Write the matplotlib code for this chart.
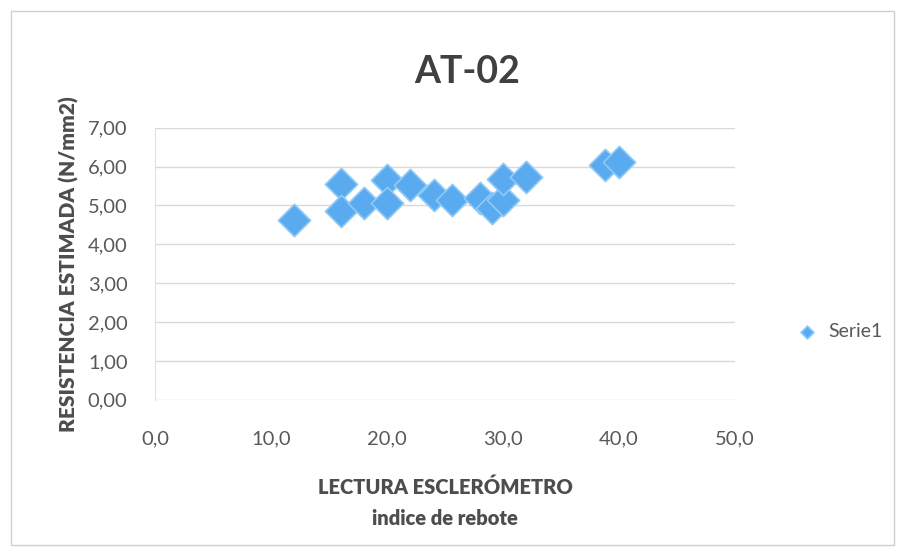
import numpy as np
import matplotlib.pyplot as plt
from matplotlib.patches import Rectangle
from matplotlib.ticker import FuncFormatter

# lectura esclerometro (indice de rebote) vs resistencia estimada
rebote = [12.0, 16.0, 16.0, 18.0, 20.0, 20.0, 22.0, 24.0, 25.6, 28.0, 29.0, 30.0, 30.0, 32.0, 38.8, 40.0]
resistencia = [4.62, 5.55, 4.85, 5.07, 5.65, 5.06, 5.52, 5.28, 5.15, 5.18, 4.93, 5.13, 5.68, 5.73, 6.05, 6.12]

x_ticks = [0, 10, 20, 30, 40, 50]
y_ticks = [0, 1, 2, 3, 4, 5, 6, 7]

fuente = ['Lato', 'DejaVu Sans']
gris = '#595959'

fig = plt.figure(figsize=(9.03, 5.53), dpi=100)
ax = fig.add_axes([0.172, 0.277, 0.642, 0.492])

ax.scatter(rebote, resistencia, marker='D', s=270, color='#5aaaf0',
           edgecolors='#8fcaf6', linewidths=1.2, zorder=3, label='Serie1')

ax.set_xlim(0, 50)
ax.set_ylim(0, 7)
ax.set_xticks(x_ticks)
ax.set_yticks(y_ticks)
ax.xaxis.set_major_formatter(FuncFormatter(lambda v, p: ('%.1f' % v).replace('.', ',')))
ax.yaxis.set_major_formatter(FuncFormatter(lambda v, p: ('%.2f' % v).replace('.', ',')))
ax.grid(axis='y', color='#d9d9d9', linewidth=1)
ax.set_axisbelow(True)
for s in ['top', 'right', 'bottom']:
    ax.spines[s].set_visible(False)
ax.spines['left'].set_color('#e0e0e0')
ax.tick_params(length=0, labelsize=14.5, labelcolor=gris)
ax.tick_params(axis='x', pad=22)
ax.tick_params(axis='y', pad=20)
for lab in ax.get_xticklabels() + ax.get_yticklabels():
    lab.set_family(fuente)

ax.set_xlabel('LECTURA ESCLERÓMETRO\nindice de rebote', fontsize=14.5, fontweight='heavy',
              color='#4d4d4d', family=fuente, labelpad=22, linespacing=1.7)
ax.set_ylabel('RESISTENCIA ESTIMADA (N/mm2)', fontsize=15, fontweight='heavy',
              color='#4d4d4d', family=fuente, labelpad=6)
fig.text(0.517, 0.87, 'AT-02', ha='center', va='center', fontsize=27,
         fontweight='bold', color='#404040', family=fuente)

leg = ax.legend(loc='center left', bbox_to_anchor=(1.06, 0.25), frameon=False,
                prop={'family': fuente, 'size': 14}, handletextpad=0.1,
                markerscale=0.4)
for t in leg.get_texts():
    t.set_color(gris)

fig.patches.append(Rectangle((0.012, 0.015), 0.978, 0.965, transform=fig.transFigure,
                             fill=False, edgecolor='#d0d0d0', linewidth=1))

fig.savefig('out.png', dpi=100)
